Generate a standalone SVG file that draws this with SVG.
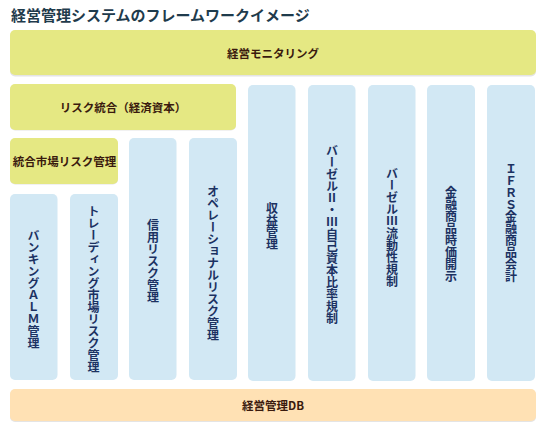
<svg xmlns="http://www.w3.org/2000/svg" width="545" height="430" viewBox="0 0 545 430">
<defs>
<style>
.t{font-family:"Noto Sans CJK JP","Noto Sans",sans-serif;font-weight:bold}
.title{font-size:15px;fill:#1f3b4c}
.y{fill:#e5e883}
.b{fill:#d2e8f4}
.p{fill:#ffe1b4}
.sh{fill:#e4e4e4}
.lt{font-size:11.5px;fill:#3a1a0e;text-anchor:middle;dominant-baseline:central}
.vt{font-size:12px;fill:#1c3262;writing-mode:vertical-rl;text-anchor:middle}
</style>
</defs>
<rect width="545" height="430" fill="#ffffff"/>
<text class="t title" x="11" y="21">経営管理システムのフレームワークイメージ</text>

<g id="monitoring">
<rect class="sh" x="10" y="31" width="526" height="45.5" rx="5"/>
<rect class="y" x="10" y="30" width="526" height="45" rx="5"/>
<text class="t lt" x="273" y="53">経営モニタリング</text>
</g>

<g id="risk-integration">
<rect class="sh" x="10" y="85" width="226" height="45.5" rx="5"/>
<rect class="y" x="10" y="84" width="226" height="46" rx="5"/>
<text class="t lt" x="123" y="107">リスク統合（経済資本）</text>
</g>

<g id="market-risk">
<rect class="sh" x="10" y="139" width="108" height="45.5" rx="5"/>
<rect class="y" x="10" y="138" width="108" height="46" rx="5"/>
<text class="t lt" x="64.5" y="161">統合市場リスク管理</text>
</g>

<g id="banking-alm">
<rect class="b" x="10" y="194" width="47.5" height="186" rx="5"/>
<text class="t vt" x="33.5" y="289">バンキングＡＬＭ管理</text>
</g>

<g id="trading">
<rect class="b" x="70" y="194" width="48" height="186" rx="5"/>
<text class="t vt" x="93.5" y="289.5">トレーディング市場リスク管理</text>
</g>

<g id="credit">
<rect class="b" x="129" y="138" width="47.5" height="242" rx="5"/>
<text class="t vt" x="153" y="261.5">信用リスク管理</text>
</g>

<g id="operational">
<rect class="b" x="189" y="138" width="48" height="242" rx="5"/>
<text class="t vt" x="213" y="263">オペレーショナルリスク管理</text>
</g>

<g id="revenue">
<rect class="b" x="248" y="85" width="47.5" height="296" rx="5"/>
<text class="t vt" x="272" y="226">収益管理</text>
</g>

<g id="basel-capital">
<rect class="b" x="308" y="85" width="47.5" height="296" rx="5"/>
<text class="t vt" x="332" y="234">バーゼルⅡ・Ⅲ自己資本比率規制</text>
</g>

<g id="basel-liquidity">
<rect class="b" x="368" y="85" width="47.5" height="296" rx="5"/>
<text class="t vt" x="392" y="227">バーゼルⅢ流動性規制</text>
</g>

<g id="fair-value">
<rect class="b" x="427" y="85" width="48" height="296" rx="5"/>
<text class="t vt" x="451" y="234">金融商品時価開示</text>
</g>

<g id="ifrs">
<rect class="b" x="487" y="85" width="48" height="296" rx="5"/>
<text class="t vt" x="511" y="222.5">ＩＦＲＳ金融商品会計</text>
</g>

<g id="db">
<rect class="sh" x="10" y="390" width="526" height="32" rx="5"/>
<rect class="p" x="10" y="389" width="526" height="32" rx="5"/>
<text class="t lt" x="273" y="405">経営管理DB</text>
</g>

<g id="connectors"></g>
</svg>
